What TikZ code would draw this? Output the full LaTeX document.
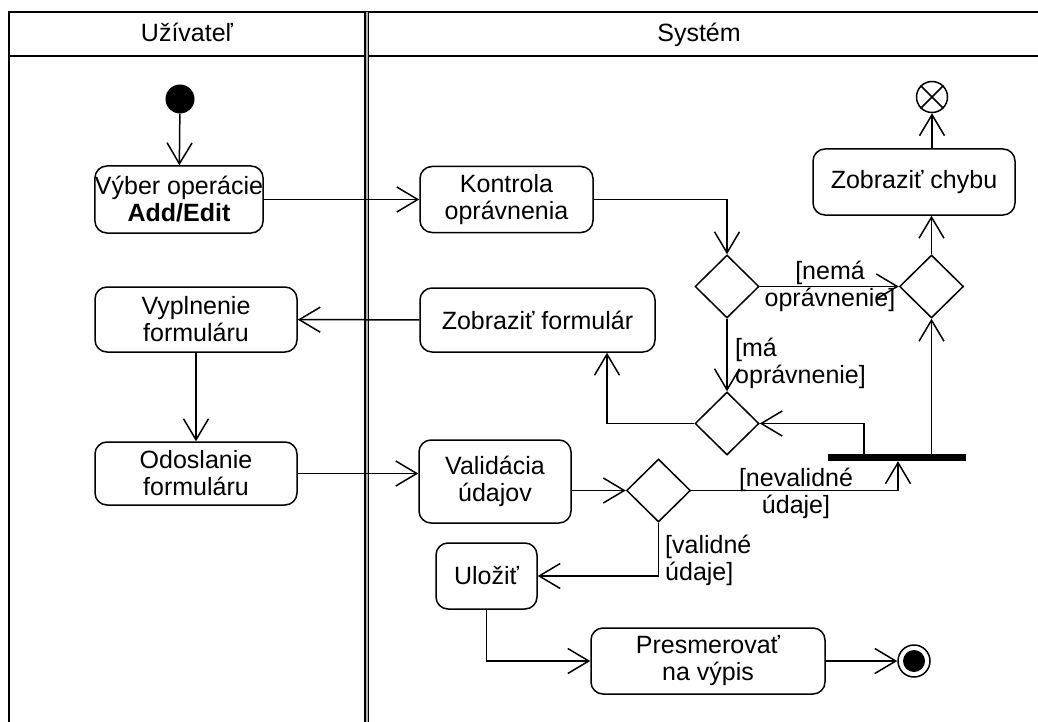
\documentclass[tikz,border=0pt]{standalone}
\usepackage{fontspec}
\setmainfont{Liberation Sans}
\usetikzlibrary{arrows.meta,shapes.geometric,calc}
\begin{document}
\begin{tikzpicture}[x=1pt,y=-1pt,
  every node/.style={font=\fontsize{25}{27}\selectfont},
  act/.style={draw, line width=1.5pt, rounded corners=12pt, fill=white, align=center, inner sep=0pt},
  dec/.style={draw, line width=1.5pt, diamond, fill=white, inner sep=0pt, minimum width=64pt, minimum height=63pt},
  flow/.style={line width=1.5pt, -{Straight Barb[length=21pt,width=25pt,line width=1.5pt]}},
  lane/.style={line width=1.5pt},
  guard/.style={align=center, inner sep=0pt}
]
\useasboundingbox (0,0) rectangle (1038,722);
% swimlane frame
\draw[lane] (9,722) -- (9,12) -- (1038,12);
\draw[lane] (9,56) -- (1038,56);
\fill[gray!60] (365,12) rectangle (368.5,722);
\draw[line width=1.2pt] (365,12) -- (365,722);
\draw[line width=1.2pt] (368.5,12) -- (368.5,722);
\node[anchor=base] (hu) at (187,42) {Užívateľ};
\node[anchor=base] (hs) at (699,42) {Systém};

% nodes
\node[circle, fill=black, minimum size=29pt, inner sep=0pt] (start) at (180,99) {};
\node[act, minimum width=168pt, minimum height=67pt] (vyber) at (179,199.5) {Výber operácie\\\textbf{Add/Edit}};
\node[act, minimum width=173pt, minimum height=66pt] (kontr) at (506.5,199.5) {Kontrola\\oprávnenia};
\node[act, minimum width=202pt, minimum height=65pt] (vypl) at (196,319.5) {Vyplnenie\\formuláru};
\node[act, minimum width=235pt, minimum height=64pt] (zform) at (537.5,320) {Zobraziť formulár};
\node[act, minimum width=202pt, minimum height=63pt] (odos) at (196,473.5) {Odoslanie\\formuláru};
\node[act, minimum width=152pt, minimum height=83pt] (valid) at (495,481.5) {Validácia\\údajov};
\node[act, minimum width=101pt, minimum height=66pt] (ulozit) at (486.5,576) {Uložiť};
\node[act, minimum width=234pt, minimum height=66pt] (presm) at (708,661) {Presmerovať\\na výpis};
\node[act, minimum width=202pt, minimum height=66pt] (zchyb) at (914,182) {Zobraziť chybu};
\node[dec] (d1) at (727,286.5) {};
\node[dec] (d2) at (931.5,286.5) {};
\node[dec] (d3) at (727,423.5) {};
\node[dec] (d4) at (658.5,490.5) {};
\node[fill=black, minimum width=138pt, minimum height=7pt, inner sep=0pt] (bar) at (897,457.5) {};
\node[circle, draw, line width=1.5pt, minimum size=31pt, inner sep=0pt] (final) at (932,97) {};
\draw[line width=1.5pt] (final.north west) -- (final.south east);
\draw[line width=1.5pt] (final.north east) -- (final.south west);
\node[circle, draw, line width=1.5pt, minimum size=32pt, inner sep=0pt] (endn) at (914,661) {};
\node[circle, fill=black, minimum size=22pt, inner sep=0pt] (endin) at (endn) {};

% connectors
\draw[flow] (start) -- (vyber);
\draw[flow] (vyber) -- (kontr);
\draw[flow] (kontr.east) -| (d1.north);
\draw[flow] (d1.east) -- (d2.west);
\draw[flow] (d2.north) -- (d2.north |- zchyb.south);
\draw[flow] (zchyb.north -| final) -- (final.south);
\draw[flow] (d1.south) -- (d3.north);
\draw[flow] (d3.west) -| ([xshift=69.5pt]zform.south);
\draw[flow] (zform) -- (vypl);
\draw[flow] (vypl) -- (odos);
\draw[flow] (odos) -- (valid.west |- odos);
\draw[flow] (valid.east |- d4) -- (d4.west);
\draw[flow] (d4.east) -| ([xshift=1pt]bar.south);
\draw[flow] ([xshift=-33pt]bar.north) |- (d3.east);
\draw[flow] (bar.north -| d2) -- (d2.south);
\draw[flow] (d4.south) |- (ulozit.east);
\draw[flow] (ulozit.south) |- (presm.west);
\draw[flow] (presm) -- (endn);

% guards
\node[guard] (g1) at (830,286) {[nemá\\oprávnenie]};
\node[guard, align=left, anchor=west] (g2) at (735,363) {[má\\oprávnenie]};
\node[guard] (g3) at (796,493) {[nevalidné\\údaje]};
\node[guard, align=left, anchor=west] (g4) at (665,560) {[validné\\údaje]};
\end{tikzpicture}
\end{document}
